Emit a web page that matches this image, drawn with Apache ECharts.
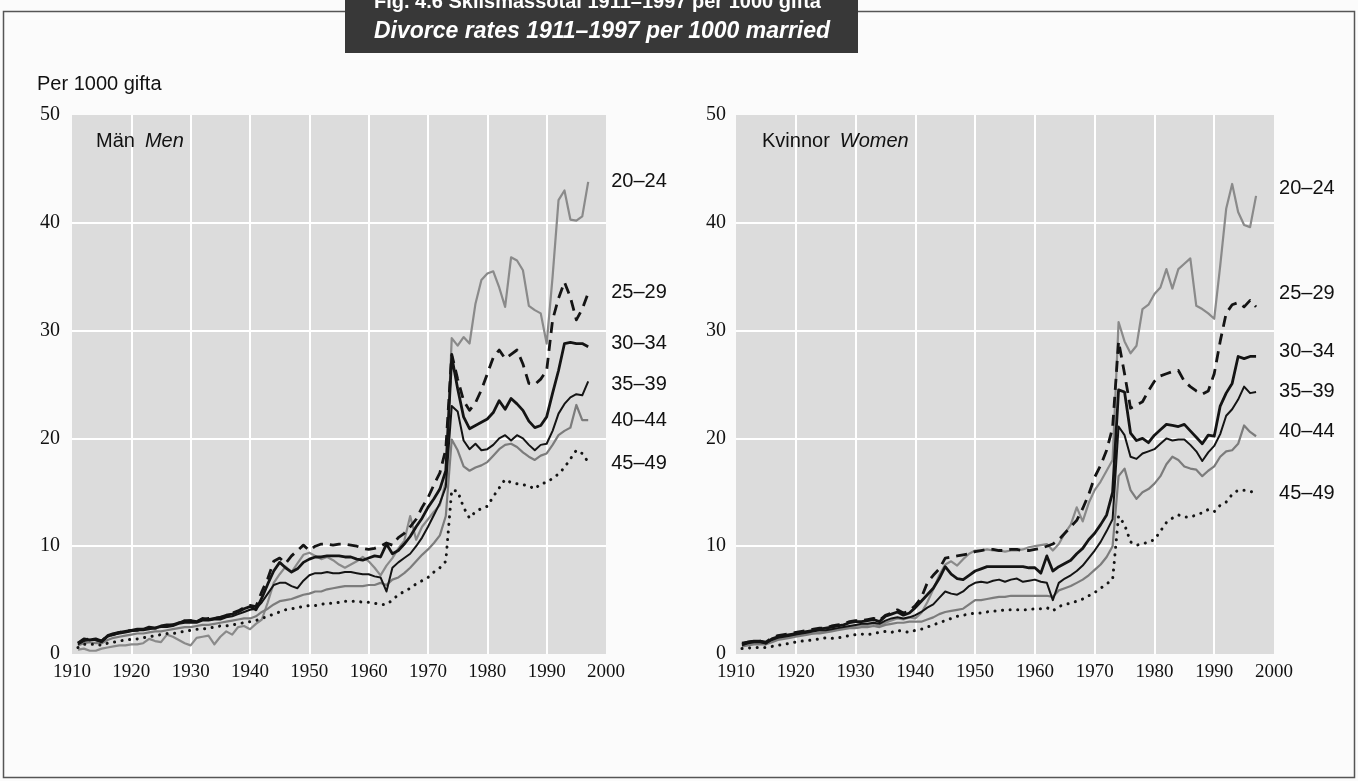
<!DOCTYPE html>
<html>
<head>
<meta charset="utf-8">
<title>Skilsmässotal 1911–1997</title>
<script src="https://cdn.jsdelivr.net/npm/echarts@6/dist/echarts.min.js"></script>
<style>
  html, body { margin: 0; padding: 0; background: #fbfbfb; }
  #chart { width: 1358px; height: 781px; }
</style>
</head>
<body>
<div id="chart"></div>
<script>
// Years of observation, 1911–1997
const firstYear = 1911;
const lastYear = 1997;
const years = [];
for (let y = firstYear; y <= lastYear; y++) years.push(y);

const ageGroups = ['20–24', '25–29', '30–34', '35–39', '40–44', '45–49'];
const xTicks = [1910, 1920, 1930, 1940, 1950, 1960, 1970, 1980, 1990, 2000];
const yTicks = [0, 10, 20, 30, 40, 50];

// Män (men): divorces per 1000 married, by age group
const men20_24 = [
  0.4, 0.5, 0.3, 0.3, 0.5, 0.6, 0.7, 0.8, 0.8, 0.9,
  0.9, 1.0, 1.4, 1.2, 1.1, 1.8, 1.6, 1.3, 1.0, 0.8,
  1.5, 1.6, 1.7, 0.9, 1.6, 2.1, 1.8, 2.5, 2.6, 2.3,
  2.8, 3.2, 4.8, 6.6, 7.4, 8.1, 7.6, 8.4, 9.2, 9.4,
  9.1, 8.8, 9.0, 8.7, 8.3, 8.0, 8.3, 8.6, 9.0, 8.6,
  8.0, 7.3, 8.2, 8.9, 9.8, 10.5, 12.8, 10.6, 11.8, 12.5,
  13.2, 13.8, 16.0, 29.3, 28.6, 29.4, 28.8, 32.5, 34.7, 35.3,
  35.5, 34.0, 32.2, 36.8, 36.5, 35.6, 32.3, 31.9, 31.6, 28.8,
  35.0, 42.1, 43.0, 40.3, 40.2, 40.6, 43.8
];
const men25_29 = [
  1.0, 1.3, 1.4, 1.3, 1.2, 1.7, 1.8, 2.0, 2.1, 2.2,
  2.2, 2.3, 2.4, 2.4, 2.5, 2.6, 2.7, 2.8, 3.1, 3.1,
  3.0, 3.2, 3.3, 3.3, 3.4, 3.5, 3.8, 4.0, 4.3, 4.5,
  4.4, 5.8, 7.0, 8.6, 8.9, 8.4, 9.1, 9.6, 10.1, 9.6,
  10.0, 10.2, 10.2, 10.1, 10.2, 10.2, 10.1, 10.0, 9.8, 9.7,
  9.8, 10.0, 10.3, 10.1, 10.8, 11.2, 11.8, 12.5, 13.6, 14.5,
  15.7, 16.8, 19.0, 27.8, 25.5, 23.5, 22.6, 23.3, 24.5, 26.0,
  27.5, 28.2, 27.4, 27.8, 28.2, 26.9, 25.1, 25.0, 25.5, 26.3,
  31.0, 33.0, 34.5, 33.1, 31.0, 32.0, 33.5
];
const men30_34 = [
  1.0, 1.4, 1.3, 1.4, 1.2, 1.7, 1.9, 2.0, 2.1, 2.2,
  2.3, 2.3, 2.5, 2.4, 2.6, 2.7, 2.7, 2.9, 3.0, 3.1,
  3.0, 3.3, 3.2, 3.3, 3.4, 3.6, 3.7, 3.9, 4.2, 4.4,
  4.1, 5.2, 6.5, 7.7, 8.5, 8.0, 7.6, 7.9, 8.5, 8.8,
  9.0, 9.0, 9.1, 9.1, 9.1, 9.0, 9.0, 8.8, 8.7, 8.9,
  9.1, 9.0, 10.2, 9.3, 9.6, 10.2, 10.9, 11.8, 12.6, 13.6,
  14.4, 15.3, 17.0, 27.6, 24.6, 22.0, 20.9, 21.2, 21.5, 21.8,
  22.4, 23.5, 22.7, 23.7, 23.2, 22.6, 21.6, 21.0, 21.2, 22.0,
  24.2, 26.3, 28.8, 28.9, 28.8, 28.8, 28.5
];
const men35_39 = [
  0.9, 1.2, 1.3, 1.3, 1.1, 1.6, 1.8, 1.9, 2.0, 2.1,
  2.2, 2.2, 2.3, 2.4, 2.5, 2.5, 2.6, 2.8, 2.9, 2.9,
  2.9, 3.1, 3.1, 3.2, 3.2, 3.4, 3.5, 3.7, 3.9, 4.1,
  4.2, 4.8, 5.6, 6.4, 6.6, 6.6, 6.3, 6.1, 6.8, 7.3,
  7.5, 7.5, 7.6, 7.5, 7.5, 7.6, 7.6, 7.5, 7.4, 7.4,
  7.2, 7.1, 5.8, 8.0, 8.5, 8.9, 9.3, 10.0, 10.8, 11.8,
  12.9, 14.0, 15.5, 23.0, 22.5, 19.8, 19.0, 19.5, 18.9, 19.0,
  19.4, 20.0, 20.3, 19.8, 20.3, 20.0, 19.4, 18.9, 19.4, 19.5,
  20.7, 22.3, 23.2, 23.8, 24.1, 24.0, 25.3
];
const men40_44 = [
  0.8, 1.0, 1.1, 1.0, 1.0, 1.3, 1.5, 1.6, 1.7, 1.8,
  1.9, 1.9, 2.0, 2.1, 2.1, 2.2, 2.3, 2.4, 2.5, 2.5,
  2.6, 2.7, 2.7, 2.8, 2.9, 3.0, 3.1, 3.2, 3.3, 3.3,
  3.5, 3.9, 4.2, 4.6, 4.9, 5.0, 5.1, 5.3, 5.5, 5.6,
  5.8, 5.8, 6.0, 6.1, 6.2, 6.3, 6.3, 6.3, 6.3, 6.4,
  6.4, 6.6, 6.4, 6.9, 7.1, 7.5, 8.0, 8.6, 9.2, 9.7,
  10.3, 11.0, 12.8, 19.9, 18.9, 17.4, 17.0, 17.3, 17.5, 17.8,
  18.4, 19.0, 19.4, 19.5, 19.2, 18.7, 18.3, 18.0, 18.4, 18.6,
  19.4, 20.3, 20.7, 21.0, 23.1, 21.7, 21.7
];
const men45_49 = [
  0.6, 0.9, 0.9, 0.9, 0.8, 1.0, 1.1, 1.2, 1.3, 1.35,
  1.4, 1.5, 1.6, 1.7, 1.8, 1.9, 1.9, 2.0, 2.1, 2.2,
  2.3, 2.3, 2.4, 2.5, 2.6, 2.6, 2.7, 2.8, 2.9, 3.0,
  3.1, 3.3, 3.5, 3.7, 3.9, 4.1, 4.2, 4.3, 4.4, 4.5,
  4.5, 4.6, 4.7, 4.7, 4.8, 4.9, 4.9, 4.9, 4.8, 4.8,
  4.7, 4.6, 4.6, 5.0, 5.5, 5.8, 6.1, 6.5, 6.8, 7.1,
  7.6, 8.0, 8.6, 15.2, 15.1, 13.6, 12.6, 13.2, 13.5, 13.7,
  14.6, 15.4, 16.2, 15.9, 15.8, 15.7, 15.6, 15.3, 15.8, 15.9,
  16.3, 16.7, 17.3, 18.1, 18.9, 18.6, 17.8
];

// Kvinnor (women): divorces per 1000 married, by age group
const women20_24 = [
  0.8, 0.9, 1.0, 1.0, 0.9, 1.2, 1.4, 1.5, 1.6, 1.7,
  1.8, 1.9, 1.9, 2.0, 2.1, 2.2, 2.3, 2.4, 2.5, 2.6,
  2.7, 2.7, 2.8, 2.6, 2.9, 3.1, 3.3, 3.2, 3.4, 3.3,
  3.8, 4.8, 6.0, 7.3, 8.3, 8.6, 8.2, 8.8, 9.3, 9.6,
  9.6, 9.7, 9.6, 9.6, 9.5, 9.6, 9.6, 9.7, 9.9, 10.0,
  10.1, 10.2, 9.6, 10.2, 11.2, 12.0, 13.6, 12.3, 14.0, 15.2,
  16.0, 17.0, 18.0, 30.8, 29.0, 27.9, 28.6, 32.0, 32.4, 33.4,
  34.0, 35.7, 33.9, 35.7, 36.2, 36.7, 32.3, 32.0, 31.6, 31.1,
  36.0, 41.3, 43.6, 41.0, 39.8, 39.6, 42.5
];
const women25_29 = [
  1.0, 1.1, 1.2, 1.2, 1.1, 1.5, 1.7, 1.8, 1.9, 2.0,
  2.1, 2.2, 2.3, 2.4, 2.4, 2.6, 2.7, 2.8, 3.0, 3.1,
  3.1, 3.2, 3.3, 3.1, 3.6, 3.8, 4.1, 3.8, 4.0, 4.5,
  5.2, 6.6, 7.3, 7.9, 8.9, 9.0, 9.1, 9.2, 9.3, 9.5,
  9.6, 9.7, 9.7, 9.6, 9.6, 9.7, 9.7, 9.6, 9.6, 9.7,
  9.8, 10.0, 10.2, 10.6, 11.2, 11.8, 12.4, 13.5, 14.8, 16.4,
  17.5, 18.9, 21.0, 29.0, 26.0, 22.8, 23.1, 23.4, 24.4, 25.3,
  25.8, 26.0, 26.2, 26.3, 25.3, 24.8, 24.4, 24.1, 24.4, 26.0,
  29.0, 31.6, 32.4, 32.6, 32.2, 32.8, 32.2
];
const women30_34 = [
  0.9, 1.1, 1.2, 1.2, 1.0, 1.4, 1.6, 1.7, 1.8, 1.9,
  2.0, 2.1, 2.2, 2.3, 2.4, 2.5, 2.6, 2.7, 2.9, 3.0,
  3.0, 3.1, 3.2, 3.0, 3.5, 3.7, 3.9, 3.6, 3.8, 4.3,
  4.9, 5.5, 6.1, 7.0, 8.1, 7.4, 7.0, 6.9, 7.3, 7.7,
  7.9, 8.1, 8.1, 8.1, 8.1, 8.1, 8.1, 8.1, 8.0, 8.0,
  7.5, 9.1, 7.7, 8.1, 8.4, 8.7, 9.3, 9.8, 10.6, 11.2,
  12.0, 12.9, 15.0, 24.5, 24.3, 20.5, 19.8, 20.0, 19.6, 20.3,
  20.8, 21.3, 21.2, 21.1, 21.3, 20.7, 20.1, 19.5, 20.3, 20.2,
  23.0, 24.2, 25.1, 27.6, 27.4, 27.6, 27.6
];
const women35_39 = [
  0.8, 1.0, 1.1, 1.1, 1.0, 1.3, 1.5, 1.6, 1.7, 1.8,
  1.9, 2.0, 2.1, 2.2, 2.2, 2.3, 2.4, 2.5, 2.6, 2.7,
  2.8, 2.8, 2.9, 2.8, 3.1, 3.3, 3.4, 3.3, 3.4, 3.6,
  3.9, 4.3, 4.6, 5.2, 5.8, 5.6, 5.5, 5.8, 6.3, 6.6,
  6.7, 6.6, 6.8, 6.9, 6.7, 6.9, 7.0, 6.7, 6.8, 6.9,
  6.7, 6.6, 5.0, 6.6, 7.0, 7.3, 7.7, 8.2, 8.9, 9.6,
  10.4, 11.4, 12.5, 21.1, 20.3, 18.3, 18.1, 18.6, 18.8, 19.0,
  19.5, 20.0, 19.8, 19.9, 19.9, 19.4, 18.8, 17.9, 18.7, 19.3,
  20.4, 22.1, 22.7, 23.6, 24.8, 24.2, 24.3
];
const women40_44 = [
  0.7, 0.8, 0.9, 0.9, 0.9, 1.1, 1.3, 1.4, 1.5, 1.6,
  1.7, 1.8, 1.9, 1.9, 2.0, 2.1, 2.2, 2.3, 2.4, 2.4,
  2.5, 2.5, 2.6, 2.5, 2.7, 2.8, 2.9, 2.9, 3.0, 3.0,
  3.0, 3.2, 3.4, 3.7, 3.9, 4.0, 4.1, 4.2, 4.6, 5.0,
  5.0, 5.1, 5.2, 5.3, 5.3, 5.4, 5.4, 5.4, 5.4, 5.4,
  5.4, 5.4, 5.3, 5.9, 6.1, 6.3, 6.6, 6.9, 7.3, 7.8,
  8.3, 9.0, 10.0, 16.5, 17.2, 15.2, 14.4, 15.0, 15.3, 15.8,
  16.5, 17.6, 18.3, 18.0, 17.4, 17.2, 17.1, 16.5, 17.0, 17.4,
  18.3, 18.8, 18.9, 19.5, 21.2, 20.6, 20.2
];
const women45_49 = [
  0.5, 0.55, 0.6, 0.6, 0.6, 0.7, 0.8, 0.9, 1.0, 1.1,
  1.2, 1.25, 1.3, 1.4, 1.5, 1.45, 1.5, 1.6, 1.7, 1.8,
  1.85, 1.8, 1.9, 2.0, 2.1, 2.0, 2.2, 2.1, 2.0, 2.2,
  2.3, 2.5, 2.7, 2.9, 3.1, 3.3, 3.5, 3.6, 3.7, 3.8,
  3.8, 3.9, 4.0, 4.0, 4.1, 4.1, 4.1, 4.1, 4.1, 4.2,
  4.2, 4.3, 4.0, 4.4, 4.6, 4.7, 4.9, 5.1, 5.4, 5.7,
  6.1, 6.5, 6.9, 12.8, 12.0, 10.4, 10.1, 10.2, 10.4, 10.6,
  11.4, 12.2, 12.6, 12.9, 12.7, 12.7, 12.9, 13.1, 13.4, 13.2,
  13.8, 14.1, 14.8, 15.2, 15.2, 15.1, 14.9
];

const menSeries = [men20_24, men25_29, men30_34, men35_39, men40_44, men45_49];
const womenSeries = [women20_24, women25_29, women30_34, women35_39, women40_44, women45_49];

// Line appearance per age group
const lineLook = {
  '20–24': { color: '#8a8a8a', width: 2.2, type: 'solid', z: 2 },
  '25–29': { color: '#141414', width: 2.8, type: [11, 7], z: 4 },
  '30–34': { color: '#141414', width: 2.8, type: 'solid', z: 5 },
  '35–39': { color: '#141414', width: 2.0, type: 'solid', z: 5 },
  '40–44': { color: '#7c7c7c', width: 2.2, type: 'solid', z: 3 },
  '45–49': { color: '#141414', width: 3.0, type: [0.1, 7.5], cap: 'round', z: 4 }
};
// Vertical nudges for the end labels so they do not collide
const labelNudgeMen = { '20–24': 0, '25–29': 0, '30–34': -3, '35–39': 3, '40–44': 0, '45–49': 1 };
const labelNudgeWomen = { '20–24': -7, '25–29': -13, '30–34': -5, '35–39': -1, '40–44': -5, '45–49': 0 };

const serif = 'Liberation Serif, Times New Roman, serif';
const sans = 'Liberation Sans, Arial, Helvetica, sans-serif';

function pairs(values) {
  return years.map((y, i) => [y, values[i]]);
}

function buildSeries(valuesList, gridIndex, nudge) {
  return ageGroups.map((name, k) => {
    const look = lineLook[name];
    return {
      name: name,
      type: 'line',
      xAxisIndex: gridIndex,
      yAxisIndex: gridIndex,
      data: pairs(valuesList[k]),
      showSymbol: false,
      symbol: 'none',
      z: look.z,
      lineStyle: {
        color: look.color,
        width: look.width,
        type: look.type,
        cap: look.cap || 'butt',
        join: 'round'
      },
      endLabel: {
        show: true,
        formatter: name,
        offset: [15, nudge[name]],
        color: '#111',
        fontFamily: sans,
        fontSize: 20
      },
      emphasis: { disabled: true },
      animation: false
    };
  });
}

function xAxisFor(gridIndex) {
  return {
    gridIndex: gridIndex,
    type: 'value',
    min: xTicks[0],
    max: xTicks[xTicks.length - 1],
    interval: 10,
    axisLine: { show: false },
    axisTick: { show: false },
    axisLabel: { fontFamily: serif, fontSize: 19, color: '#111', margin: 9,
                 formatter: (v) => String(v) },
    splitLine: { show: true, showMinLine: false, showMaxLine: false,
                 lineStyle: { color: '#ffffff', width: 2 } }
  };
}

function yAxisFor(gridIndex, margin) {
  return {
    gridIndex: gridIndex,
    type: 'value',
    min: yTicks[0],
    max: yTicks[yTicks.length - 1],
    interval: 10,
    axisLine: { show: false },
    axisTick: { show: false },
    axisLabel: { fontFamily: serif, fontSize: 20, color: '#111', margin: margin,
                 formatter: (v) => String(v) },
    splitLine: { show: true, showMinLine: false, showMaxLine: false,
                 lineStyle: { color: '#ffffff', width: 2 } }
  };
}

const chart = echarts.init(document.getElementById('chart'), null, { renderer: 'canvas' });

const richPanel = {
  n: { fontFamily: sans, fontSize: 20, fontWeight: 'normal', color: '#111' },
  i: { fontFamily: sans, fontSize: 20, fontWeight: 'normal', fontStyle: 'italic', color: '#111' }
};

chart.setOption({
  backgroundColor: '#fbfbfb',
  animation: false,
  title: [
    { text: 'Per 1000 gifta', left: 37, top: 74, padding: 0,
      textStyle: { fontFamily: sans, fontSize: 20, fontWeight: 'normal', color: '#111' } },
    { text: '{n|Män}  {i|Men}', left: 96, top: 131, padding: 0,
      textStyle: { fontWeight: 'normal', rich: richPanel } },
    { text: '{n|Kvinnor}  {i|Women}', left: 762, top: 131, padding: 0,
      textStyle: { fontWeight: 'normal', rich: richPanel } }
  ],
  grid: [
    { left: 72, top: 115, width: 534, height: 539, show: true,
      backgroundColor: '#dcdcdc', borderWidth: 0 },
    { left: 736, top: 115, width: 538, height: 539, show: true,
      backgroundColor: '#dcdcdc', borderWidth: 0 }
  ],
  xAxis: [xAxisFor(0), xAxisFor(1)],
  yAxis: [yAxisFor(0, 12), yAxisFor(1, 10)],
  series: buildSeries(menSeries, 0, labelNudgeMen).concat(buildSeries(womenSeries, 1, labelNudgeWomen)),
  graphic: [
    { type: 'rect', z: 0, silent: true,
      shape: { x: 3.5, y: 11.5, width: 1351, height: 766 },
      style: { fill: 'none', stroke: '#555', lineWidth: 1.5 } },
    { type: 'rect', z: 10, silent: true,
      shape: { x: 345, y: 0, width: 513, height: 53 },
      style: { fill: '#383838' } },
    { type: 'text', z: 11, silent: true, left: 374, top: -8,
      style: { text: 'Fig. 4.6 Skilsmässotal 1911–1997 per 1000 gifta',
               fill: '#ffffff', font: 'bold 20px ' + sans } },
    { type: 'text', z: 11, silent: true, left: 374, top: 20,
      style: { text: 'Divorce rates 1911–1997 per 1000 married',
               fill: '#ffffff', font: 'italic bold 23px ' + sans } }
  ]
});
</script>
</body>
</html>
